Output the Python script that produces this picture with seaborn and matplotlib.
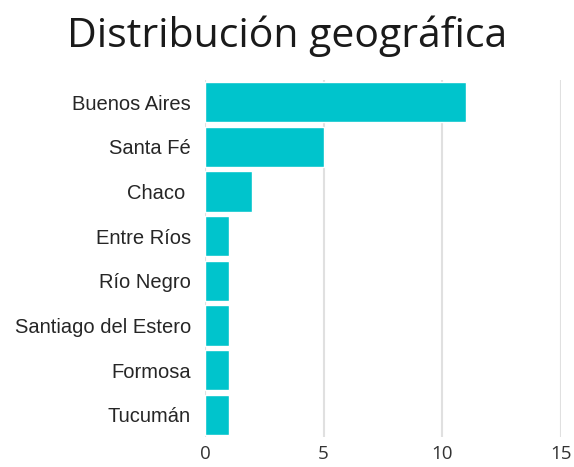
"""Horizontal bar chart: Distribución geográfica."""

import matplotlib
matplotlib.use("Agg")
import matplotlib.pyplot as plt
import pandas as pd
import seaborn as sns

provincias = ["Buenos Aires", "Santa Fé", "Chaco ", "Entre Ríos", "Río Negro",
              "Santiago del Estero", "Formosa", "Tucumán"]
cantidad = [11, 5, 2, 1, 1, 1, 1, 1]
x_ticks = [0, 5, 10, 15]

sns.set_style("white")
plt.rcParams["font.family"] = ["Open Sans", "DejaVu Sans"]

df = pd.DataFrame({"provincia": provincias, "cantidad": cantidad})

fig = plt.figure(figsize=(5.74, 4.67), dpi=100)
ax = fig.add_axes([0.357, 0.064, 0.62, 0.765])

sns.barplot(data=df, x="cantidad", y="provincia", color="#00C4CC",
            saturation=1, width=0.9, ax=ax)

ax.set_xlim(0, 15)
ax.set_xticks(x_ticks)
ax.set_xticklabels([str(t) for t in x_ticks], fontsize=13.5, color="#333333")
for lbl in ax.get_yticklabels():
    lbl.set_family("Liberation Sans")
    lbl.set_fontsize(14.5)
    lbl.set_color("#262626")
ax.tick_params(axis="x", length=0, pad=6)
ax.tick_params(axis="y", length=0, pad=10)
ax.set_xlabel("")
ax.set_ylabel("")
ax.grid(axis="x", color="#e0e0e0", linewidth=1.5)
ax.set_axisbelow(True)
sns.despine(ax=ax, left=True, bottom=True)

fig.text(0.5, 0.922, "Distribución geográfica", ha="center", va="center",
         fontsize=29.5, color="#1a1a1a")

fig.savefig("out.png", dpi=100)
plt.close(fig)
